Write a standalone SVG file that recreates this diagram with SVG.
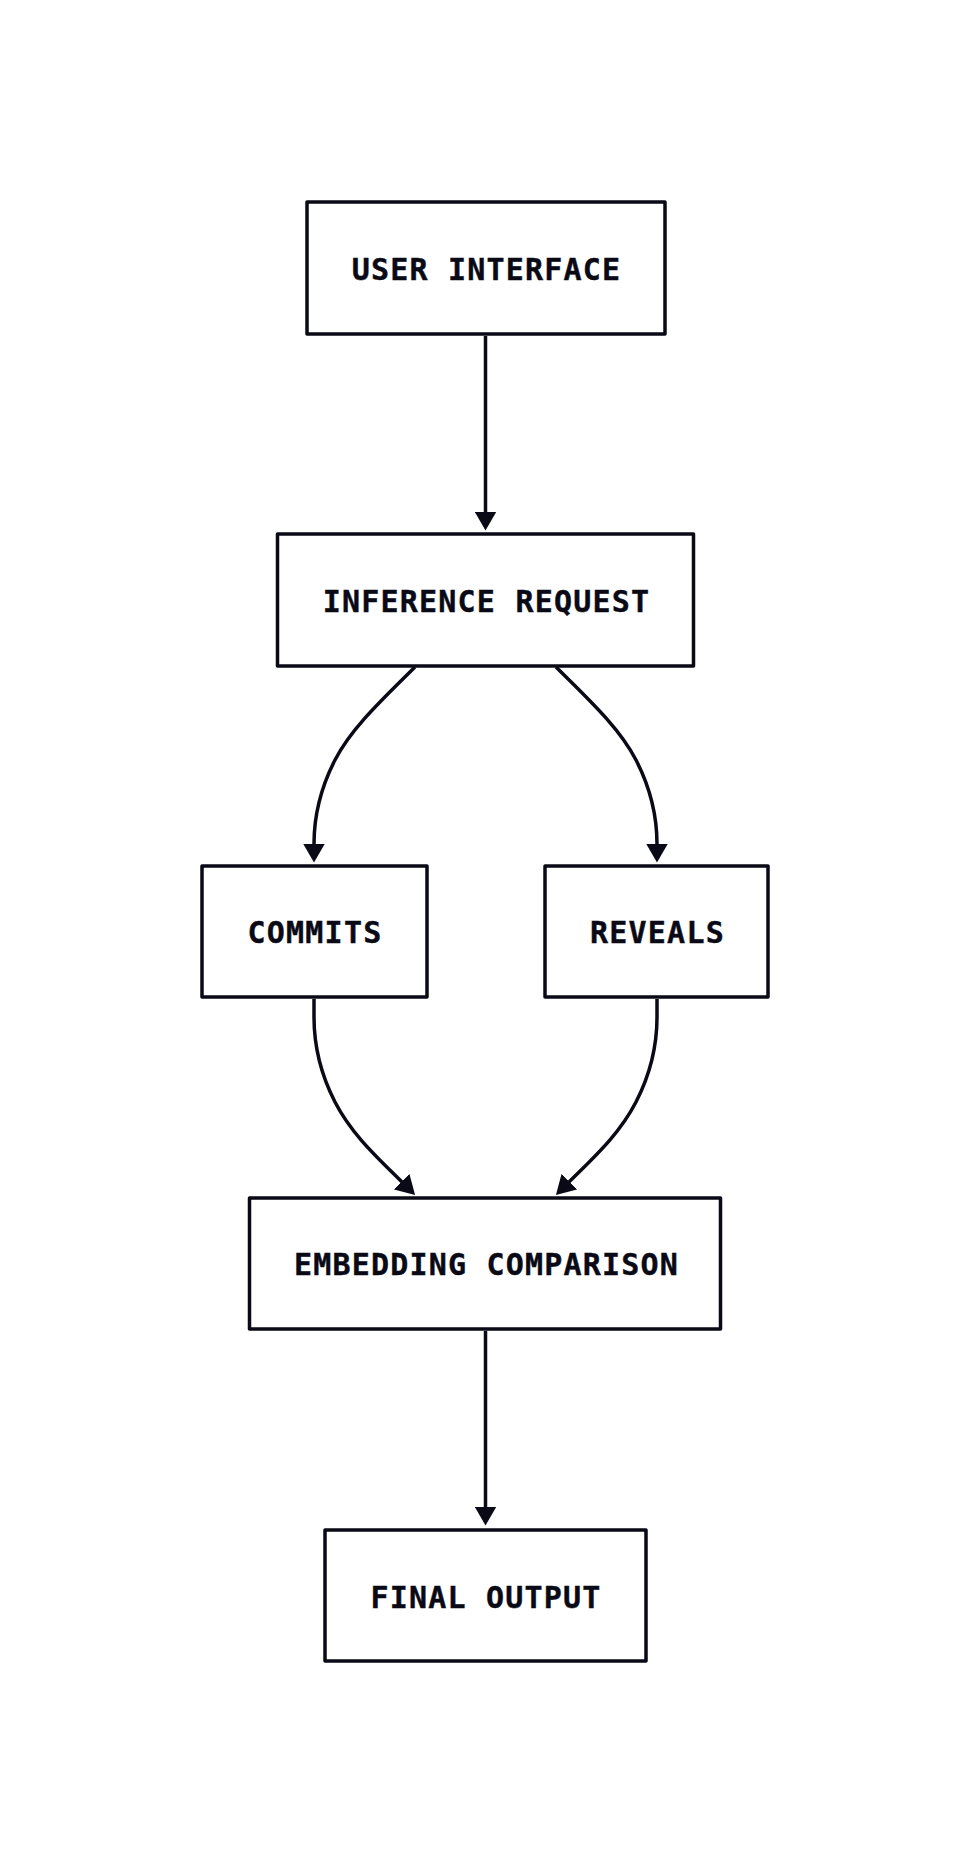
<svg xmlns="http://www.w3.org/2000/svg" width="970" height="1864" viewBox="0 0 970 1864">
  <style>
    .box { fill: #ffffff; stroke: #0a0a16; stroke-width: 3.5; stroke-linejoin: round; }
    .lbl { font-family: "DejaVu Sans Mono", "Liberation Mono", monospace; font-weight: bold; font-size: 30px; letter-spacing: 1.2px; fill: #0a0a16; text-anchor: middle; stroke: #0a0a16; stroke-width: 0.4; }
    .edge { fill: none; stroke: #0a0a16; stroke-width: 3.5; marker-end: url(#arrow); }
  </style>
  <defs>
    <marker id="arrow" markerUnits="userSpaceOnUse" markerWidth="20" markerHeight="22" viewBox="0 0 20 22" refX="0.5" refY="11" orient="auto">
      <path d="M0,0 L19,11 L0,22 Z" fill="#0a0a16"/>
    </marker>
  </defs>
  <rect width="970" height="1864" fill="#ffffff"/>

  <g id="connectors">
    <path class="edge" d="M485.5,336 L485.5,512"/>
    <path class="edge" d="M415,667 C385,697 352,727 335,760 C318,793 314,820 314,844"/>
    <path class="edge" d="M556,667 C586,697 619,727 636,760 C653,793 657,820 657,844"/>
    <path class="edge" d="M314,999 L314,1017 C314,1042 318,1069 335,1102 C352,1135 378,1158 402,1182"/>
    <path class="edge" d="M657,999 L657,1017 C657,1042 653,1069 636,1102 C619,1135 593,1158 569,1182"/>
    <path class="edge" d="M485.5,1331 L485.5,1507"/>
  </g>

  <g id="user-interface">
    <rect class="box" x="307" y="202" width="358" height="132"/>
    <text class="lbl" x="486.5" y="279.5">USER INTERFACE</text>
  </g>
  <g id="inference-request">
    <rect class="box" x="277.5" y="534" width="416" height="132"/>
    <text class="lbl" x="486.5" y="611.5">INFERENCE REQUEST</text>
  </g>
  <g id="commits">
    <rect class="box" x="202" y="866" width="225" height="131"/>
    <text class="lbl" x="315" y="942.5">COMMITS</text>
  </g>
  <g id="reveals">
    <rect class="box" x="545" y="866" width="223" height="131"/>
    <text class="lbl" x="657.5" y="942.5">REVEALS</text>
  </g>
  <g id="embedding-comparison">
    <rect class="box" x="249.5" y="1198" width="471" height="131"/>
    <text class="lbl" x="486.5" y="1274.5">EMBEDDING COMPARISON</text>
  </g>
  <g id="final-output">
    <rect class="box" x="325" y="1530" width="321" height="131"/>
    <text class="lbl" x="486" y="1607.5">FINAL OUTPUT</text>
  </g>
</svg>
